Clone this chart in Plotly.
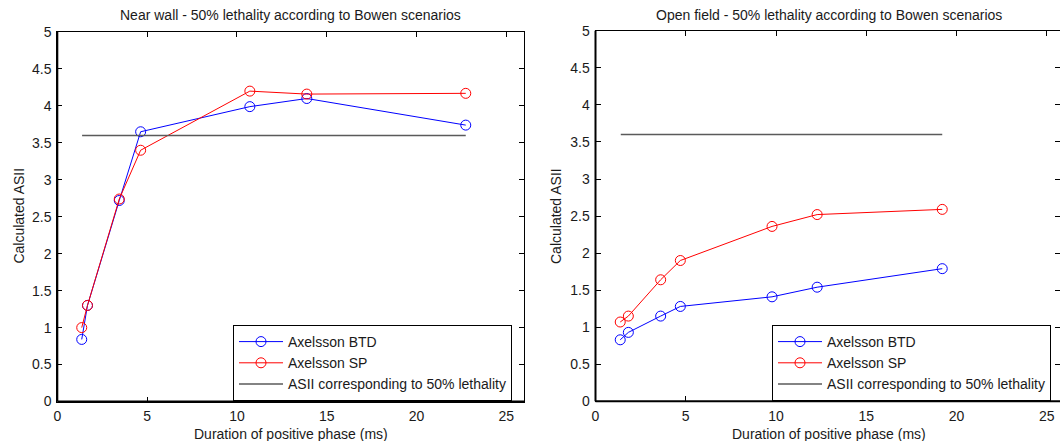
import plotly.graph_objects as go

# ---------------- data ----------------
near_x = [1.36, 1.68, 3.45, 4.64, 10.72, 13.89, 22.74]
near_btd = [0.84, 1.30, 2.72, 3.65, 3.99, 4.10, 3.74]
near_sp = [1.00, 1.30, 2.74, 3.40, 4.20, 4.16, 4.17]

open_x = [1.37, 1.82, 3.61, 4.70, 9.78, 12.28, 19.21]
open_btd = [0.83, 0.93, 1.15, 1.28, 1.41, 1.54, 1.79]
open_sp = [1.07, 1.15, 1.64, 1.90, 2.36, 2.52, 2.59]

threshold = 3.6
near_thr_x = [1.38, 22.74]
open_thr_x = [1.40, 19.21]

series_names = ["Axelsson BTD", "Axelsson SP", "ASII corresponding to 50% lethality"]
titles = ["Near wall - 50% lethality according to Bowen scenarios",
          "Open field - 50% lethality according to Bowen scenarios"]
x_title = "Duration of positive phase (ms)"
y_title = "Calculated ASII"
x_ticks = [0, 5, 10, 15, 20, 25]
y_ticks = [0, 0.5, 1, 1.5, 2, 2.5, 3, 3.5, 4, 4.5, 5]

FONT = "Liberation Sans, Arial, sans-serif"
FS = 14
TXT = "#1a1a1a"
W, H = 1060, 441

fig = go.Figure()

def add_panel(xa, ya, leg, xs, btd, sp, thr_x):
    fig.add_trace(go.Scatter(x=xs, y=btd, mode="lines+markers", name=series_names[0],
                             line=dict(color="#0000ff", width=1),
                             marker=dict(symbol="circle-open", size=10, color="#0000ff", line=dict(width=1)),
                             xaxis=xa, yaxis=ya, legend=leg))
    fig.add_trace(go.Scatter(x=xs, y=sp, mode="lines+markers", name=series_names[1],
                             line=dict(color="#ff0000", width=1),
                             marker=dict(symbol="circle-open", size=10, color="#ff0000", line=dict(width=1)),
                             xaxis=xa, yaxis=ya, legend=leg))
    fig.add_trace(go.Scatter(x=thr_x, y=[threshold, threshold], mode="lines", name=series_names[2],
                             line=dict(color="#5a5a5a", width=1.6),
                             xaxis=xa, yaxis=ya, legend=leg))

add_panel("x", "y", "legend", near_x, near_btd, near_sp, near_thr_x)
add_panel("x2", "y2", "legend2", open_x, open_btd, open_sp, open_thr_x)

axis_common = dict(showgrid=False, zeroline=False, showline=True, linecolor="black", linewidth=1,
                   mirror="ticks", ticks="inside", ticklen=5, tickcolor="black", tickwidth=1,
                   automargin=False, ticklabelstandoff=2,
                   tickfont=dict(family=FONT, size=FS, color=TXT), fixedrange=True)

L1, R1 = 57.3, 524.3
L2, R2 = 595.5, 1060.0
top1, bot1 = 32.0, 401.5
top2, bot2 = 30.8, 401.3

leg_common = dict(xanchor="left", yanchor="top", bgcolor="white", bordercolor="black", borderwidth=1,
                  font=dict(family=FONT, size=FS, color=TXT), tracegroupgap=0, itemwidth=44)

fig.update_layout(
    template="none",
    width=W, height=H, margin=dict(l=0, r=0, t=0, b=0, autoexpand=False),
    paper_bgcolor="white", plot_bgcolor="white",
    font=dict(family=FONT, size=FS, color=TXT),
    xaxis=dict(domain=[L1 / W, R1 / W], range=[0, 26], tickvals=x_ticks, anchor="y", **axis_common),
    yaxis=dict(domain=[(H - bot1) / H, (H - top1) / H], range=[0, 5], tickvals=y_ticks, anchor="x", **axis_common),
    xaxis2=dict(domain=[L2 / W, R2 / W], range=[0, (R2 - L2) / 18.05], tickvals=x_ticks, anchor="y2", **axis_common),
    yaxis2=dict(domain=[(H - bot2) / H, (H - top2) / H], range=[0, 5], tickvals=y_ticks, anchor="x2", **axis_common),
    legend=dict(x=233 / W, y=(H - 325) / H, **leg_common),
    legend2=dict(x=772 / W, y=(H - 325) / H, **leg_common),
    showlegend=True,
)

# thicker left / bottom axis lines
for xr, yr in [("x", "y"), ("x2", "y2")]:
    fig.add_shape(type="line", xref=f"{xr} domain", yref=f"{yr} domain", x0=0, x1=0, y0=0, y1=1,
                  line=dict(color="black", width=2), layer="above")
    fig.add_shape(type="line", xref=f"{xr} domain", yref=f"{yr} domain", x0=0, x1=1, y0=0, y1=0,
                  line=dict(color="black", width=2), layer="above")

# titles and axis labels
for cx, t in zip([(L1 + R1) / 2, (L2 + 1063) / 2], titles):
    fig.add_annotation(text=t, x=cx / W, y=(H - 15) / H, xref="paper", yref="paper",
                       showarrow=False, xanchor="center", yanchor="middle",
                       font=dict(family=FONT, size=FS, color=TXT))
for cx in [(L1 + R1) / 2, (L2 + 1063) / 2]:
    fig.add_annotation(text=x_title, x=cx / W, y=(H - 433.5) / H, xref="paper", yref="paper",
                       showarrow=False, xanchor="center", yanchor="middle",
                       font=dict(family=FONT, size=FS, color=TXT))
for lx in [18.6, 556.0]:
    fig.add_annotation(text=y_title, x=lx / W, y=(H - 216) / H, xref="paper", yref="paper",
                       showarrow=False, xanchor="center", yanchor="middle", textangle=-90,
                       font=dict(family=FONT, size=FS, color=TXT))

fig.write_html("out.html")
